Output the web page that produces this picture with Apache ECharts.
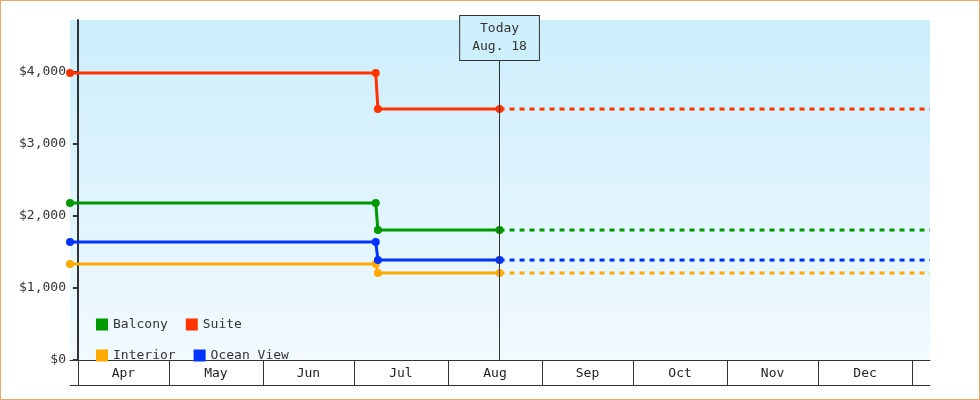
<!DOCTYPE html>
<html><head><meta charset="utf-8">
<script src="https://cdn.jsdelivr.net/npm/echarts@6/dist/echarts.min.js"></script>
<style>html,body{margin:0;padding:0;}#c{width:980px;height:400px;box-sizing:border-box;border:1px solid #f0a860;}</style>
</head><body><div id="c"></div>
<script>
// x values: days since Apr 1
const monthLabels = ['Apr','May','Jun','Jul','Aug','Sep','Oct','Nov','Dec'];
const monthStarts = [0,30,61,91,122,153,183,214,244,275];
const xMin = -2.6, xMax = 280.9;
const dropBefore = 98.2, dropAfter = 98.9, today = 139;
const seriesNames = ['Balcony','Suite','Interior','Ocean View'];
const colors = ['#009900','#ff3300','#ffaa00','#0033ff'];
const priceBefore = [2180, 3985, 1335, 1640];
const priceAfter = [1805, 3485, 1208, 1388];

const font = 'DejaVu Sans Mono';
const labelPos = monthLabels.map((m,i)=>(monthStarts[i]+monthStarts[i+1])/2);
const series = [];
seriesNames.forEach((n,i)=>{
  series.push({name:n,type:'line',color:colors[i],symbol:'circle',symbolSize:8,
    lineStyle:{width:3,color:colors[i]},itemStyle:{color:colors[i]},
    data:[[xMin,priceBefore[i]],[dropBefore,priceBefore[i]],[dropAfter,priceAfter[i]],[today,priceAfter[i]]],
    z:3});
  series.push({name:n,type:'line',color:colors[i],showSymbol:false,symbol:'none',
    lineStyle:{width:3,type:[5,5],color:colors[i]},
    data:[[today,priceAfter[i]],[xMax,priceAfter[i]]],z:2});
});
series.push({type:'line',data:[],markLine:{silent:true,symbol:'none',
  lineStyle:{color:'#333',width:1,type:'solid'},
  label:{show:true,position:'end',distance:0,formatter:'Today\nAug. 18',fontFamily:font,fontSize:13,color:'#333',
    backgroundColor:'#cdeffb',borderColor:'#333',borderWidth:1,padding:[4,12],lineHeight:18},
  data:[[{coord:[today,0]},{coord:[today,4166]}]]}});

const chart = echarts.init(document.getElementById('c'));
chart.setOption({
  animation:false,
  textStyle:{fontFamily:font},
  grid:{left:69,right:49,top:19,bottom:39,show:true,borderWidth:0,
    backgroundColor:new echarts.graphic.LinearGradient(0,0,0,1,[{offset:0,color:'#cbeefc'},{offset:1,color:'#f2fafe'}])},
  legend:{left:90,top:312,width:200,itemWidth:12,itemHeight:12,itemGap:18,icon:'rect',
    data:seriesNames,textStyle:{fontFamily:font,fontSize:13,color:'#333'},orient:'horizontal'},
  xAxis:[{type:'value',min:xMin,max:xMax,
    axisLine:{show:true,lineStyle:{color:'#333',width:1}},
    axisTick:{show:true,length:25,customValues:monthStarts,lineStyle:{color:'#333'}},
    axisLabel:{customValues:labelPos,formatter:(v)=>monthLabels[labelPos.indexOf(v)]||'',
      margin:7,fontFamily:font,fontSize:13,color:'#222'},
    splitLine:{show:false}},
   {type:'value',min:xMin,max:xMax,position:'bottom',offset:25,
    axisLine:{show:true,lineStyle:{color:'#333',width:1}},axisTick:{show:false},axisLabel:{show:false},splitLine:{show:false}}],
  yAxis:{type:'value',min:0,max:4722,interval:1000,
    axisLine:{show:true,lineStyle:{color:'#333',width:2}},
    axisTick:{show:true,length:5,lineStyle:{color:'#333',width:2}},
    axisLabel:{formatter:v=>'$'+v.toLocaleString('en-US'),fontFamily:font,fontSize:13,color:'#333',margin:4,showMaxLabel:false},
    splitLine:{show:false}},
  series:series
});
</script></body></html>
